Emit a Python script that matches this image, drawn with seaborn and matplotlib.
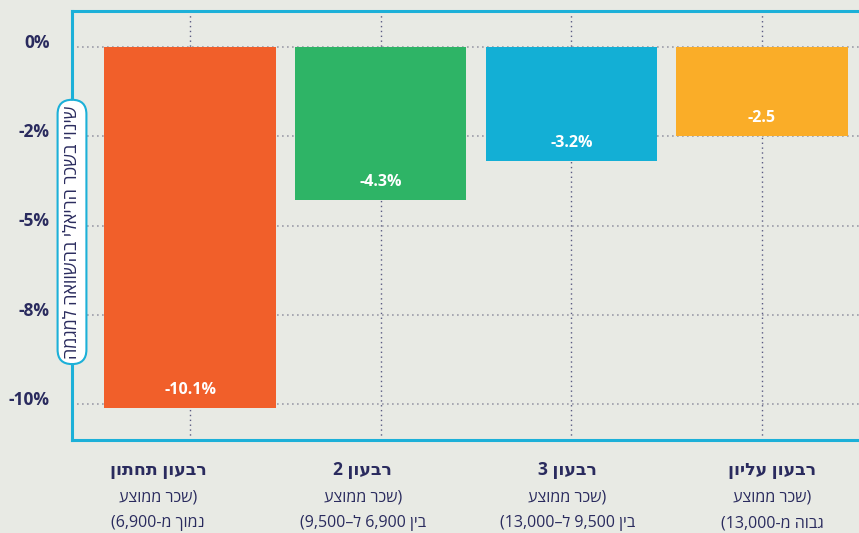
import re

import seaborn as sns
import matplotlib.pyplot as plt
import matplotlib.transforms as mtrans
import pandas as pd

# data (logical Hebrew order)
quartiles = ['רבעון תחתון', 'רבעון 2', 'רבעון 3', 'רבעון עליון']
sub_line1 = ['(שכר ממוצע', '(שכר ממוצע', '(שכר ממוצע', '(שכר ממוצע']
sub_line2 = ['נמוך מ-6,900)', 'בין 6,900 ל–9,500)', 'בין 9,500 ל–13,000)', 'גבוה מ-13,000)']
values = [-10.1, -4.3, -3.2, -2.5]
value_labels = ['-10.1%', '-4.3%', '-3.2%', '-2.5']
y_ticks = [0, -2.5, -5, -7.5, -10]
y_tick_labels = ['0%', '-2%', '-5%', '-8%', '-10%']
y_title = 'שינוי בשכר הריאלי בהשוואה למגמה'
colors = ['#F15F2A', '#2EB466', '#13AFD5', '#FAAD28']

BG = '#E8EAE4'
NAVY = '#2A2B5E'
CYAN = '#1CB0D8'


def rtl(s):
    """Turn a logical right-to-left string into visual order for matplotlib."""
    mirror = {'(': ')', ')': '('}
    r = ''.join(mirror.get(c, c) for c in reversed(s))
    return re.sub(r'[0-9][0-9,.]*', lambda m: m.group(0)[::-1], r)


def main():
    sns.set_style('white')
    plt.rcParams['font.family'] = ['Open Sans', 'DejaVu Sans']

    df = pd.DataFrame({'quartile': quartiles, 'value': values})

    fig = plt.figure(figsize=(8.59, 5.33), dpi=100, facecolor=BG)
    ax = fig.add_axes([72 / 859, 93 / 533, 1 - 72 / 859, 429 / 533])
    ax.set_facecolor(BG)

    sns.barplot(data=df, x='quartile', y='value', hue='quartile', palette=colors,
                legend=False, width=0.9, saturation=1, linewidth=0, ax=ax, zorder=2)

    ax.set_xlim(-0.62, 3.51)
    ax.set_ylim(-11, 1)
    ax.set_xlabel('')
    ax.set_ylabel('')

    # grid and ticks
    ax.set_axisbelow(True)
    ax.set_yticks(y_ticks)
    ax.set_yticklabels(y_tick_labels, fontsize=12.5, fontweight='bold', color=NAVY)
    ax.set_xticks(range(len(quartiles)))
    ax.set_xticklabels([''] * len(quartiles))
    ax.tick_params(length=0)
    ax.tick_params(axis='y', pad=16)
    ax.grid(axis='y', linestyle=(0, (1, 2)), color='#9C9CA8', linewidth=1.2)
    ax.grid(axis='x', linestyle=(0, (1, 2.5)), color='#5A5B82', linewidth=1)
    off = mtrans.ScaledTranslation(0, 6 / 100, fig.dpi_scale_trans)
    for lab in ax.get_yticklabels():
        lab.set_transform(lab.get_transform() + off)

    # spines
    for side in ['left', 'top', 'bottom']:
        ax.spines[side].set_color(CYAN)
        ax.spines[side].set_linewidth(2.2)
    ax.spines['right'].set_visible(False)

    # value labels inside bars
    for i, (v, t) in enumerate(zip(values, value_labels)):
        ax.annotate(t, xy=(i, v), xytext=(0, 13), textcoords='offset points',
                    ha='center', va='center', color='white', fontsize=11.5,
                    fontweight='bold', zorder=3)

    # category labels, laid out in evenly spaced columns under the plot
    for i in range(len(quartiles)):
        cx = (158 + i * 204.7) / 859
        fig.text(cx, 1 - 470 / 533, rtl(quartiles[i]), ha='center', va='center',
                 fontsize=12.5, fontweight='bold', color=NAVY)
        fig.text(cx, 1 - 498 / 533, rtl(sub_line1[i]), ha='center', va='center',
                 fontsize=11.5, color=NAVY)
        fig.text(cx, 1 - 523 / 533, rtl(sub_line2[i]), ha='center', va='center',
                 fontsize=11.5, color=NAVY)

    # y title in a rounded box sitting on the left spine
    ax.text(0, 0.485, rtl(y_title), transform=ax.transAxes, rotation=90,
            ha='center', va='center', fontsize=13, color=NAVY, zorder=5,
            bbox=dict(boxstyle='round,pad=0.3,rounding_size=0.8', facecolor='white',
                      edgecolor=CYAN, linewidth=1.5))

    fig.savefig('out.png', dpi=100, facecolor=BG)


if __name__ == '__main__':
    main()
